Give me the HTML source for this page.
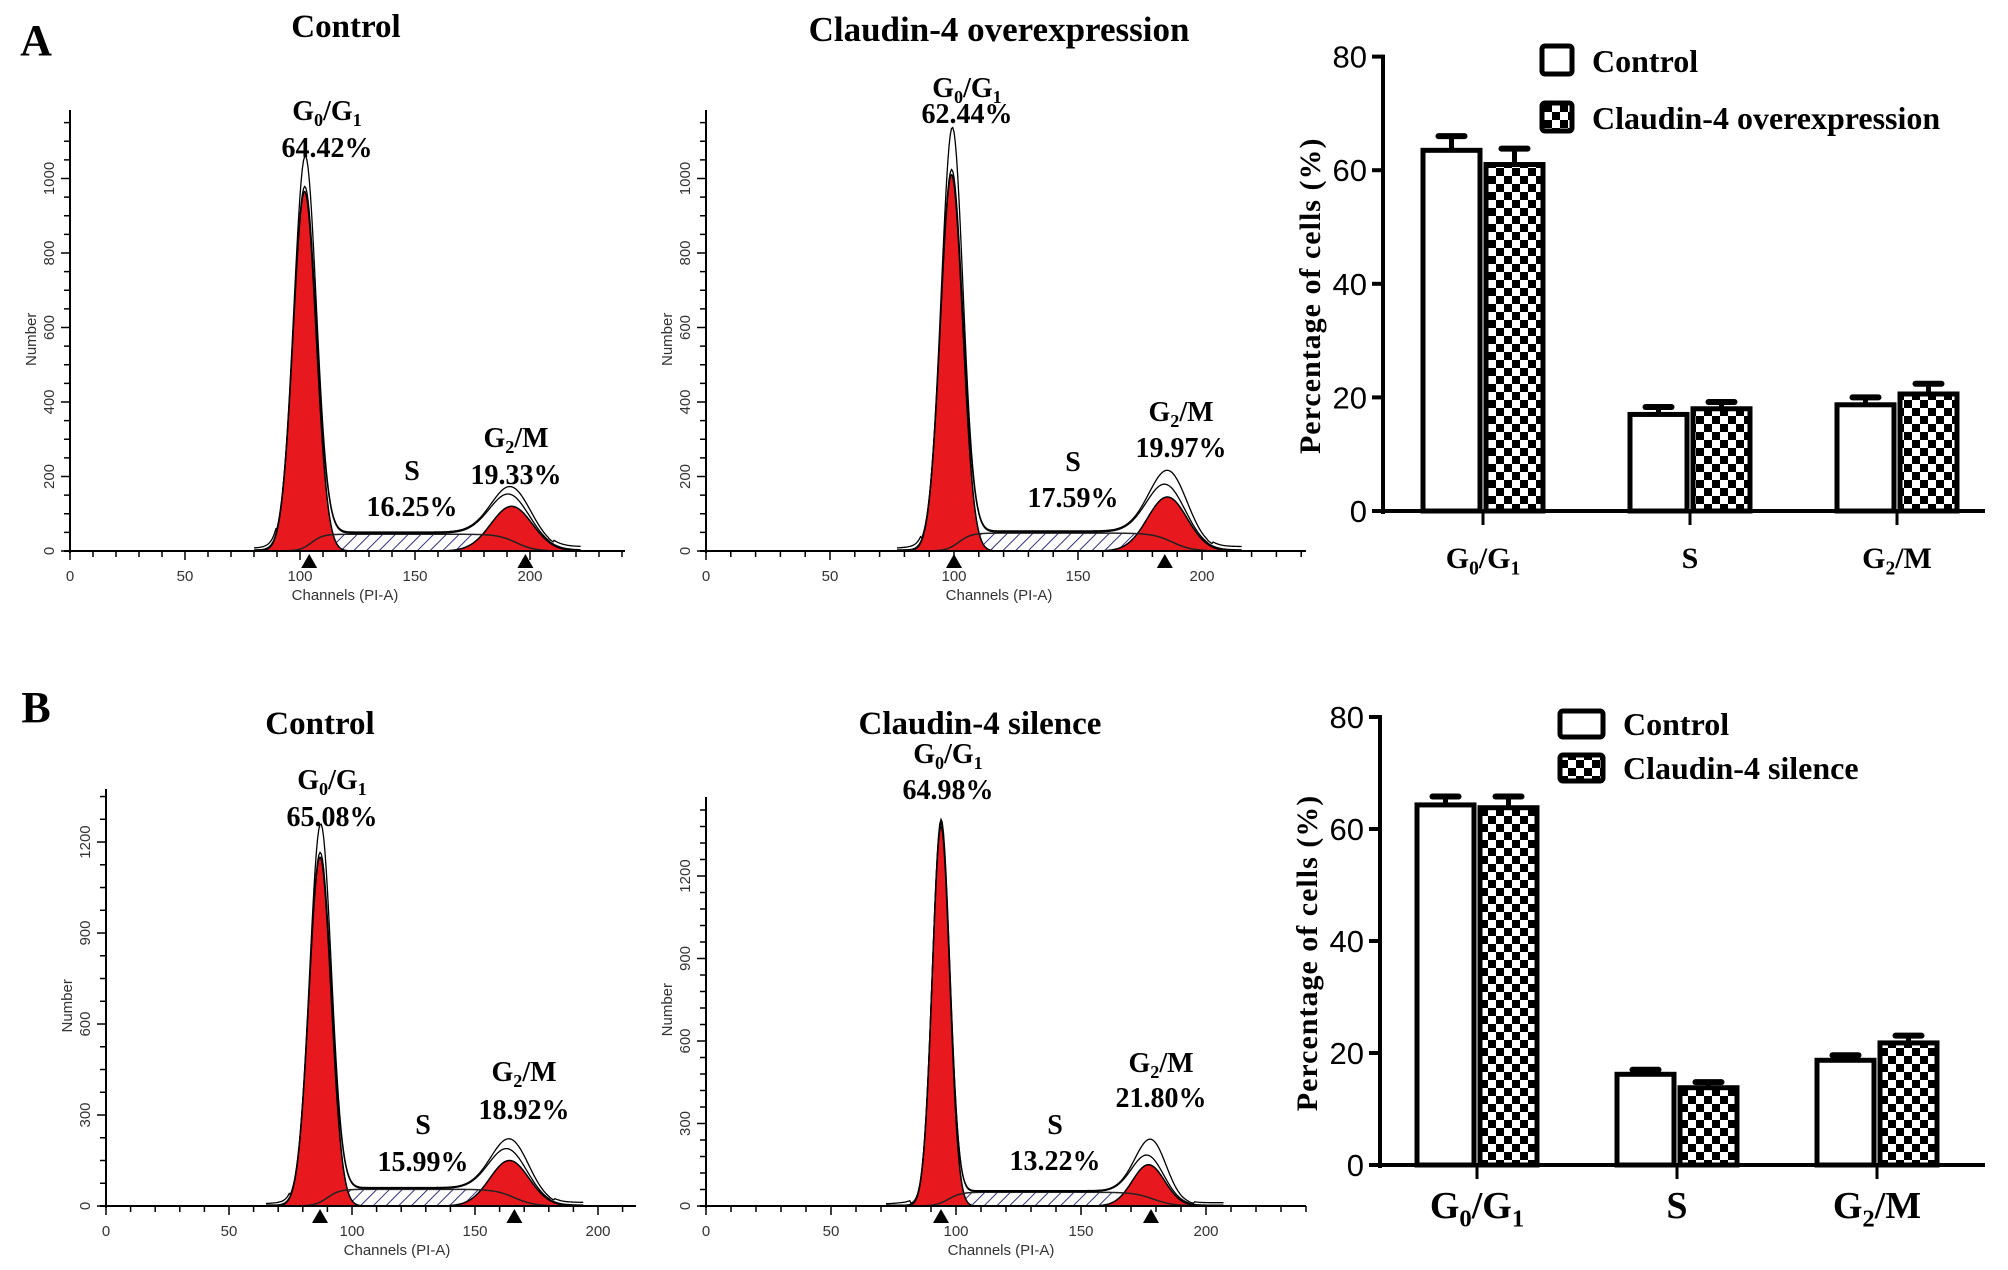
<!DOCTYPE html>
<html><head><meta charset="utf-8"><style>
html,body{margin:0;padding:0;background:#fff}
svg{display:block}
.ser{font-family:"Liberation Serif",serif;font-weight:bold;fill:#000}
.san{font-family:"Liberation Sans",sans-serif;fill:#333}
</style></head><body>
<svg id="fig" width="2008" height="1270" viewBox="0 0 2008 1270" xmlns="http://www.w3.org/2000/svg">
<defs>
<pattern id="hatch" width="9" height="9" patternUnits="userSpaceOnUse" patternTransform="rotate(45)">
<rect width="9" height="9" fill="#fff"/><line x1="0" y1="0" x2="0" y2="9" stroke="#33337a" stroke-width="2"/></pattern>
<pattern id="checker" width="16" height="16" patternUnits="userSpaceOnUse">
<rect width="16" height="16" fill="#fff"/><rect width="8" height="8" fill="#000"/><rect x="8" y="8" width="8" height="8" fill="#000"/></pattern>
</defs>
<g id="root"></g>
</svg>
<script>
// ---------- histogram data (channel, sd, height) ----------
const a1G1 = [102, 5, 965];
const a1G2 = [192, 9, 120];
const a1S = [45];
const a1Raw = [1050, 140];
const a2G1 = [99, 4.5, 1010];
const a2G2 = [186, 8, 145];
const a2S = [48];
const a2Raw = [1130, 185];
const b1G1 = [87, 4.5, 1150];
const b1G2 = [164, 8, 150];
const b1S = [55];
const b1Raw = [1250, 185];
const b2G1 = [94, 3.5, 1380];
const b2G2 = [177, 6.5, 150];
const b2S = [50];
const b2Raw = [1390, 215];

// ---------- bar chart data ----------
const barCategories = ["G0/G1", "S", "G2/M"];
const aControl = [63.5, 17.0, 18.7];
const aControlErr = [2.5, 1.3, 1.3];
const aOver = [61.0, 18.0, 20.6];
const aOverErr = [2.8, 1.2, 1.8];
const bControl = [64.3, 16.2, 18.7];
const bControlErr = [1.5, 0.8, 0.9];
const bSilence = [63.8, 13.8, 21.8];
const bSilenceErr = [2.0, 1.0, 1.3];
const barTicks = [0, 20, 40, 60, 80];

const NS = "http://www.w3.org/2000/svg";
const root = document.getElementById("root");
function mk(tag, attrs, parent){
  const e = document.createElementNS(NS, tag);
  for (const k in attrs) e.setAttribute(k, attrs[k]);
  (parent || root).appendChild(e);
  return e;
}
function gauss(x, p){ return p[2]*Math.exp(-0.5*Math.pow((x-p[0])/p[1],2)); }

function serifText(x, y, size, parts, name, parent){
  const t = mk("text", {x:x, y:y, "font-size":size, "text-anchor":"middle", class:"ser"}, parent);
  
  
  parts.forEach(p=>{
    const s = document.createElementNS(NS,"tspan");
    if (p.sub){ s.setAttribute("font-size", size*0.65); s.setAttribute("dy", size*0.22); }
    else if (p.after){ s.setAttribute("dy", -size*0.22); }
    s.textContent = p.t;
    t.appendChild(s);
  });
  return t;
}
function phaseLabel(x, y, size, a, sub1, b, sub2, name, parent){
  const parts = [{t:a},{t:sub1,sub:true},{t:b,after:true}];
  if (sub2) parts.push({t:sub2,sub:true});
  return serifText(x, y, size, parts, name, parent);
}

function histogram(cfg){
  const g = mk("g", {});
  
  
  const X = c => cfg.x0 + c*cfg.ppc;
  const Y = v => cfg.y0 - v*cfg.ppu;
  const G1 = cfg.g1, G2 = cfg.g2, S = cfg.s[0];
  const sComp = c => {
    if (c < G1[0]-8 || c > G2[0]+16) return 0;
    const up = 1/(1+Math.exp(-(c-(G1[0]+3))/2.5));
    const dn = 1/(1+Math.exp((c-(G2[0]+2))/4));
    return S*up*dn;
  };
  const total = c => gauss(c,G1)+gauss(c,G2)+sComp(c);
  let d = "M"+X(G1[0])+","+Y(0);
  for (let c=G1[0]; c<=G2[0]+8; c+=0.5){ d += " L"+X(c)+","+Y(sComp(c)); }
  d += " L"+X(G2[0]+8)+","+Y(0)+" Z";
  const hs = mk("path",{d:d, fill:"url(#hatch)", stroke:"none"}, g);
  
  
  [[G1,'g0g1-peak'],[G2,'g2m-peak']].forEach(([p,n])=>{
    let dd = "M"+X(p[0]-4*p[1])+","+Y(0);
    for (let c=p[0]-4*p[1]; c<=p[0]+4*p[1]; c+=0.25){ dd += " L"+X(c)+","+Y(gauss(c,p)); }
    dd += " L"+X(p[0]+4*p[1])+","+Y(0)+" Z";
    const r = mk("path",{d:dd, fill:"#e8191e", stroke:"#000", "stroke-width":1.5}, g);
    
    
  });
  let sl = "";
  for (let c=G1[0]-8; c<=G2[0]+16; c+=0.5){ sl += (sl?" L":"M")+X(c)+","+Y(sComp(c)); }
  const sline = mk("path",{d:sl, fill:"none", stroke:"#222", "stroke-width":1.5}, g);
  
  
  const raw = cfg.raw;
  let rl = "", fl = "";
  for (let c=G1[0]-22; c<=G2[0]+30; c+=0.5){
    const base = total(c);
    const k1 = gauss(c,[G1[0]+1.5,G1[1]*0.7,raw[0]-G1[2]]);
    const k2 = gauss(c,[G2[0]+3,G2[1]*0.8,raw[1]-G2[2]]);
    const tail = (c<G1[0]-12 ? 12*Math.exp(-(G1[0]-12-c)/6) : 0) + (c>G2[0]+18 ? 6 : 0) + 6;
    rl += (rl?" L":"M")+X(c)+","+Y(base+k1+k2+tail);
    fl += (fl?" L":"M")+X(c)+","+Y(base+3);
  }
  const rp = mk("path",{d:rl, fill:"none", stroke:"#000", "stroke-width":1.3}, g);
  
  
  const fp = mk("path",{d:fl, fill:"none", stroke:"#000", "stroke-width":1.3}, g);
  
  
  const ax = mk("g",{stroke:"#000","stroke-width":2}, g);
  
  
  mk("line",{x1:cfg.x0,y1:cfg.top,x2:cfg.x0,y2:cfg.y0+2},ax);
  mk("line",{x1:cfg.x0-6,y1:cfg.y0,x2:cfg.xEnd,y2:cfg.y0},ax);
  for (let c=0; X(c)<=cfg.xEnd+1; c+=10){
    const big = c%50===0;
    mk("line",{x1:X(c),y1:cfg.y0,x2:X(c),y2:cfg.y0+(big?9:6),"stroke-width":1.5},ax);
    if (big){
      const t = mk("text",{x:X(c),y:cfg.y0+30,"font-size":15,"text-anchor":"middle",class:"san"},g);
      t.textContent = c;
      
      
    }
  }
  for (let v=0; Y(v)>=cfg.top; v+=cfg.minor){
    const big = v%cfg.major===0;
    mk("line",{x1:cfg.x0-(big?9:6),y1:Y(v),x2:cfg.x0,y2:Y(v),"stroke-width":1.5},ax);
    if (big){
      const t = mk("text",{x:0,y:0,"font-size":15,"text-anchor":"middle",class:"san",transform:"translate("+(cfg.x0-16)+","+Y(v)+") rotate(-90)"},g);
      t.textContent = v;
      
      
    }
  }
  const yt = mk("text",{x:0,y:0,"font-size":15,"text-anchor":"middle",class:"san",transform:"translate("+(cfg.x0-34)+","+(cfg.y0-(cfg.y0-cfg.top)*0.48)+") rotate(-90)"},g);
  yt.textContent = "Number";
  
  
  const xt = mk("text",{x:X(100)+45,y:cfg.y0+49,"font-size":15,"text-anchor":"middle",class:"san"},g);
  xt.textContent = "Channels (PI-A)";
  
  
  cfg.tri.forEach(c=>{
    const p = mk("polygon",{points:(X(c)-8)+","+(cfg.y0+17)+" "+(X(c)+8)+","+(cfg.y0+17)+" "+X(c)+","+(cfg.y0+3),fill:"#000"},g);
    
    
  });
}

histogram({name:"histogram-a-control",x0:70,ppc:2.30,y0:551,ppu:0.3725,top:110,xEnd:625,major:200,minor:50,g1:a1G1,g2:a1G2,s:a1S,raw:a1Raw,tri:[104,198]});
histogram({name:"histogram-a-overexpression",x0:706,ppc:2.48,y0:551,ppu:0.3725,top:110,xEnd:1306,major:200,minor:50,g1:a2G1,g2:a2G2,s:a2S,raw:a2Raw,tri:[100,185]});
histogram({name:"histogram-b-control",x0:106,ppc:2.46,y0:1206,ppu:0.3033,top:789,xEnd:636,major:300,minor:75,g1:b1G1,g2:b1G2,s:b1S,raw:b1Raw,tri:[87,166]});
histogram({name:"histogram-b-silence",x0:706,ppc:2.5,y0:1206,ppu:0.275,top:797,xEnd:1306,major:300,minor:60,g1:b2G1,g2:b2G2,s:b2S,raw:b2Raw,tri:[94,178]});

[["A",36,55,"panel-label-a"],["B",36,722,"panel-label-b"]].forEach(([t,x,y,n])=>{
  const e = mk("text",{x:x,y:y,"font-size":44,"text-anchor":"middle",class:"ser"});
  e.textContent = t;  
});
[["Control",346,37,33,"title-a-control"],["Claudin-4 overexpression",999,41,35,"title-a-overexpression"],["Control",320,734,33,"title-b-control"],["Claudin-4 silence",980,734,33,"title-b-silence"]].forEach(([t,x,y,s,n])=>{
  const e = mk("text",{x:x,y:y,"font-size":s,"text-anchor":"middle",class:"ser"});
  e.textContent = t;  
});
const pl = [
 [327,120,"64.42%",327,157, 412,480,"16.25%",412,516, 516,447,"19.33%",516,484],
 [967,97,"62.44%",967,123, 1073,471,"17.59%",1073,507, 1181,421,"19.97%",1181,457],
 [332,789,"65.08%",332,826, 423,1134,"15.99%",423,1171, 524,1081,"18.92%",524,1119],
 [948,763,"64.98%",948,799, 1055,1134,"13.22%",1055,1170, 1161,1072,"21.80%",1161,1107]
];
pl.forEach(r=>{
  phaseLabel(r[0],r[1],28,"G","0","/G","1","g0g1-label");
  let e = mk("text",{x:r[3],y:r[4],"font-size":28,"text-anchor":"middle",class:"ser"}); e.textContent=r[2];
   
  e = mk("text",{x:r[5],y:r[6],"font-size":28,"text-anchor":"middle",class:"ser"}); e.textContent="S";
   
  e = mk("text",{x:r[8],y:r[9],"font-size":28,"text-anchor":"middle",class:"ser"}); e.textContent=r[7];
   
  phaseLabel(r[10],r[11],28,"G","2","/M","","g2m-label");
  e = mk("text",{x:r[13],y:r[14],"font-size":28,"text-anchor":"middle",class:"ser"}); e.textContent=r[12];
   
});

function barChart(cfg){
  const g = mk("g",{});
  
  
  const Y = v => cfg.y0 - v*cfg.ppu;
  mk("line",{x1:cfg.x0,y1:Y(80)-2,x2:cfg.x0,y2:cfg.y0+3,stroke:"#000","stroke-width":4},g);
  mk("line",{x1:cfg.x0-2,y1:cfg.y0,x2:1985,y2:cfg.y0,stroke:"#000","stroke-width":4},g);
  barTicks.forEach(v=>{
    mk("line",{x1:cfg.x0-11,y1:Y(v),x2:cfg.x0,y2:Y(v),stroke:"#000","stroke-width":4},g);
    const t = mk("text",{x:cfg.x0-16,y:Y(v)+11,"font-size":31,"text-anchor":"end",class:"san",style:"fill:#000"},g);
    t.textContent = v;
    
    
  });
  const yl = mk("text",{x:0,y:0,"font-size":30,"text-anchor":"middle",class:"ser","letter-spacing":"1",transform:"translate("+(cfg.x0-63)+","+(Y(40)+12)+") rotate(-90)"},g);
  yl.textContent = "Percentage of cells (%)";
  
  
  const W = cfg.barW, groupPitch = cfg.pitch;
  barCategories.forEach((cat,i)=>{
    const cx = cfg.firstCenter + i*groupPitch;
    mk("line",{x1:cx,y1:cfg.y0,x2:cx,y2:cfg.y0+14,stroke:"#000","stroke-width":3},g);
    [[cfg.s1,cfg.e1,"#fff",cx-W-3,"bar-control-"+i],[cfg.s2,cfg.e2,"url(#checker)",cx+3,"bar-treatment-"+i]].forEach(([vals,errs,fill,x,n])=>{
      const top = Y(vals[i]), et = Y(vals[i]+errs[i]);
      mk("line",{x1:x+W/2,y1:top,x2:x+W/2,y2:et,stroke:"#000","stroke-width":5},g);
      mk("line",{x1:x+W/2-13,y1:et,x2:x+W/2+13,y2:et,stroke:"#000","stroke-width":6,"stroke-linecap":"round"},g);
      const r = mk("rect",{x:x,y:top,width:W,height:cfg.y0-top,fill:fill,stroke:"#000","stroke-width":5},g);
      
      
    });
    if (i===0) phaseLabel(cx,cfg.labY,cfg.labSize,"G","0","/G","1","category-label",g);
    else if (i===1){ const lab = mk("text",{x:cx,y:cfg.labY,"font-size":cfg.labSize,"text-anchor":"middle",class:"ser"},g); lab.textContent="S";
        }
    else phaseLabel(cx,cfg.labY,cfg.labSize,"G","2","/M","","category-label",g);
  });
  cfg.legend.forEach((L,k)=>{
    const r = mk("rect",{x:cfg.legX,y:L[1],width:cfg.legW,height:cfg.legH,fill:k?"url(#checker)":"#fff",stroke:"#000","stroke-width":5,rx:3},g);
    
    
    const t = mk("text",{x:cfg.legX+cfg.legW+20,y:L[1]+cfg.legH-2,"font-size":32,class:"ser"},g);
    t.textContent = L[0];
    
    
  });
}
barChart({name:"bar-chart-a",x0:1383,y0:511,ppu:5.68,barW:57,pitch:207,firstCenter:1483,s1:aControl,e1:aControlErr,s2:aOver,e2:aOverErr,labY:568,labSize:30,
  legX:1542,legW:30,legH:28,legend:[["Control",46],["Claudin-4 overexpression",103]]});
barChart({name:"bar-chart-b",x0:1380,y0:1165,ppu:5.6,barW:57,pitch:200,firstCenter:1477,s1:bControl,e1:bControlErr,s2:bSilence,e2:bSilenceErr,labY:1218,labSize:38,
  legX:1560,legW:43,legH:26,legend:[["Control",711],["Claudin-4 silence",755]]});
</script>
</body></html>
